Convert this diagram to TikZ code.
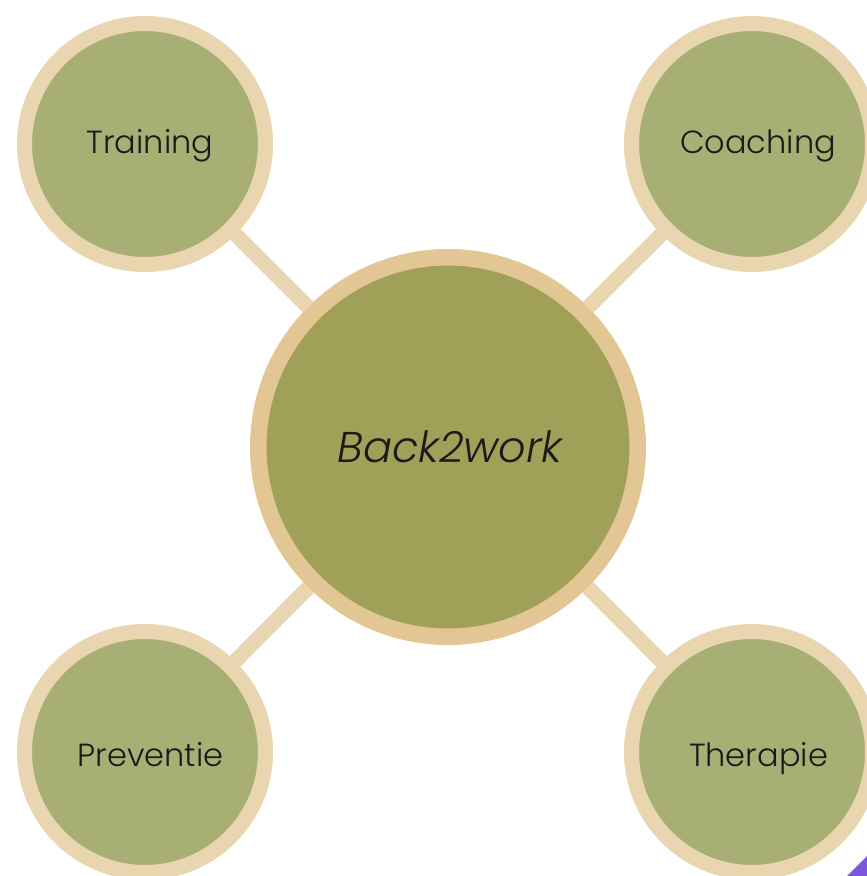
\documentclass[tikz,border=0pt]{standalone}
\usepackage{fontspec}
\setmainfont{Poppins}[UprightFont={* Light}, ItalicFont={* Light Italic}]
\usetikzlibrary{backgrounds}
\definecolor{ringsat}{HTML}{E9D6B1}
\definecolor{ringhub}{HTML}{E2C794}
\definecolor{fillsat}{HTML}{A8AF74}
\definecolor{fillhub}{HTML}{A0A058}
\definecolor{inktext}{HTML}{1A1A1A}
\definecolor{accent}{HTML}{7E57DC}
\tikzset{
  % text height sets how far below the centre the baseline sits (half of it)
  satnode/.style={circle, fill=fillsat, draw=ringsat, line width=15pt,
    minimum size=241pt, inner sep=0pt, text=inktext,
    text height=#1, text depth=0pt,
    font=\fontsize{32}{38}\selectfont},
  satnode/.default=18pt,
  hubnode/.style={circle, fill=fillhub, draw=ringhub, line width=16.5pt,
    minimum size=379.5pt, inner sep=0pt, text=inktext,
    text height=30pt, text depth=0pt,
    font=\fontsize{43}{50}\selectfont\itshape},
  link/.style={draw=ringsat, line width=15pt}
}
\begin{document}
\begin{tikzpicture}[x=1pt,y=-1pt]
  \useasboundingbox (0,0) rectangle (867,876);
  \node[hubnode] (hub) at (448,447) {\kern4pt Back2work};
  \node[satnode] (train) at (145,144) {\kern10pt Training};
  \node[satnode] (coach) at (752,144) {\kern12pt Coaching};
  \node[satnode=28pt] (prev) at (145,752) {\kern11pt Preventie};
  \node[satnode=28pt] (ther) at (752,752) {\kern13pt Therapie};
  \begin{scope}[on background layer]
    \fill[white] (0,0) rectangle (867,876);
    \draw[link] (train) -- (hub);
    \draw[link] (coach) -- (hub);
    \draw[link] (prev) -- (hub);
    \draw[link] (ther) -- (hub);
  \end{scope}
  \fill[accent] (847,876) -- (867,856) -- (867,876) -- cycle;
\end{tikzpicture}
\end{document}
